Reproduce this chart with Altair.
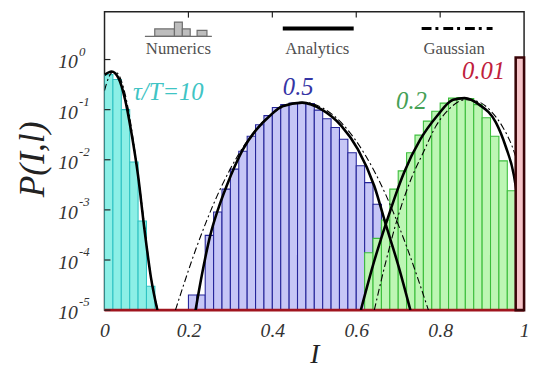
import altair as alt
import pandas as pd

FONT = "Liberation Serif, Times New Roman, DejaVu Serif, serif"

# ---------------- numerics: histograms (bin start, probability) ----------------
bin_width = 0.02
floor_p = 1e-5

cyan_start = [0.00, 0.02, 0.04, 0.06, 0.08, 0.10]
cyan_p = [0.50, 0.40, 0.10, 0.009, 0.0006, 0.00003]

blue_start = [0.20, 0.22, 0.24, 0.26, 0.28, 0.30, 0.32, 0.34, 0.36, 0.38, 0.40, 0.42, 0.44,
              0.46, 0.48, 0.50, 0.52, 0.54, 0.56, 0.58, 0.60, 0.62, 0.64, 0.66, 0.68, 0.70]
blue_p = [2.0e-5, 2.0e-5, 3.1e-4, 9.1e-4, 2.6e-3, 6.5e-3, 0.0148, 0.0295, 0.050, 0.076, 0.110,
          0.126, 0.135, 0.138, 0.132, 0.098, 0.066, 0.044, 0.0257, 0.0138, 0.0076, 0.0035,
          0.0013, 4.5e-4, 1.3e-4, 3.2e-5]

green_start = [0.62, 0.64, 0.66, 0.68, 0.70, 0.72, 0.74, 0.76, 0.78, 0.80, 0.82, 0.84, 0.86,
               0.88, 0.90, 0.92, 0.94, 0.96]
green_p = [1.4e-4, 2.7e-4, 6.3e-4, 2.6e-3, 6.0e-3, 0.0138, 0.031, 0.059, 0.093, 0.135, 0.170,
           0.174, 0.166, 0.126, 0.069, 0.0295, 0.0095, 0.0024]

red_start = [0.98]
red_p = [1.1]

# ---------------- analytics (solid) ----------------
cyan_an_I = [0.0, 0.017, 0.033, 0.049, 0.064, 0.080, 0.095, 0.111, 0.126]
cyan_an_P = [0.49, 0.575, 0.43, 0.16, 0.035, 0.0048, 4.2e-4, 4.3e-5, 1e-5]

blue_an_I = [0.217, 0.232, 0.252, 0.271, 0.291, 0.311, 0.330, 0.362, 0.393, 0.424, 0.471,
             0.518, 0.565, 0.604, 0.643, 0.671, 0.700, 0.729]
blue_an_P = [1e-5, 5.0e-5, 3.1e-4, 1.05e-3, 3.0e-3, 7.6e-3, 0.0162, 0.040, 0.074, 0.117,
             0.138, 0.100, 0.047, 0.0162, 3.0e-3, 4.9e-4, 7.9e-5, 1e-5]

green_an_I = [0.611, 0.640, 0.671, 0.714, 0.753, 0.792, 0.831, 0.858, 0.893, 0.933, 0.956,
              0.976, 0.991, 1.0]
green_an_P = [1e-5, 7.9e-5, 5.4e-4, 5.6e-3, 0.0257, 0.074, 0.158, 0.170, 0.126, 0.055,
              0.0186, 4.8e-3, 5.8e-4, 1e-4]

# ---------------- Gaussian approximations (dash-dot) ----------------
cyan_ga_I = [0.0, 0.01, 0.02, 0.03, 0.04, 0.05, 0.06, 0.07, 0.08, 0.09, 0.10, 0.11, 0.12, 0.127]
cyan_ga_P = [0.24, 0.44, 0.56, 0.54, 0.38, 0.19, 0.071, 0.020, 0.0050, 0.0011, 2.2e-4,
             5.0e-5, 1.8e-5, 1e-5]

blue_ga_I = [0.169, 0.22, 0.27, 0.32, 0.37, 0.42, 0.47, 0.52, 0.57, 0.62, 0.67, 0.72, 0.772]
blue_ga_P = [1e-5, 1.86e-4, 2.04e-3, 0.0130, 0.049, 0.108, 0.141, 0.108, 0.049, 0.0130,
             2.04e-3, 1.86e-4, 1e-5]

green_ga_I = [0.643, 0.67, 0.70, 0.73, 0.76, 0.79, 0.82, 0.86, 0.89, 0.92, 0.95, 0.97, 0.99, 1.0]
green_ga_P = [1e-5, 8.9e-5, 7.6e-4, 4.0e-3, 0.0141, 0.047, 0.100, 0.158, 0.145, 0.0955,
              0.0437, 0.020, 6.3e-3, 3.5e-3]

# ---------------- labels ----------------
curve_label_text = ["τ/T=10", "0.5", "0.2", "0.01"]
curve_label_I = [0.068, 0.425, 0.695, 0.852]
curve_label_P = [0.22, 0.285, 0.145, 0.59]
curve_label_color = ["#40C4C4", "#3535A5", "#45A055", "#C0203C"]

x_ticks = [0, 0.2, 0.4, 0.6, 0.8, 1]
y_ticks = [1, 0.1, 0.01, 0.001, 0.0001, 0.00001]
y_tick_exp = ["0", "-1", "-2", "-3", "-4", "-5"]

# ---------------- scales / axes ----------------
xs = alt.Scale(domain=[0, 1], nice=False, zero=False)
ys = alt.Scale(type="log", domain=[1e-5, 9], nice=False)
xaxis = alt.Axis(values=x_ticks, format="~g", domain=False, ticks=False, grid=False,
                 labelFont=FONT, labelFontStyle="italic", labelFontSize=20, labelColor="#333",
                 labelPadding=11, labelFlush=False, labelOverlap=False,
                 title="I", titleFont=FONT, titleFontStyle="italic", titleFontSize=28,
                 titleFontWeight="normal", titleColor="#222", titlePadding=0)


def bars(starts, ps):
    return pd.DataFrame({"x0": starts, "x1": [s + bin_width for s in starts], "p": ps,
                         "base": [floor_p] * len(starts)})


def bar_layer(df, fill, stroke, sw=1.1, clip=True):
    return alt.Chart(df).mark_rect(fill=fill, stroke=stroke, strokeWidth=sw, clip=clip).encode(
        x=alt.X("x0:Q", scale=xs, axis=xaxis), x2="x1:Q",
        y=alt.Y("p:Q", scale=ys, axis=None), y2="base:Q")


def curves(parts):
    rows = []
    for name, I, P in parts:
        for i, p in zip(I, P):
            rows.append({"I": i, "P": p, "curve": name})
    return pd.DataFrame(rows)


layers = []
layers.append(bar_layer(bars(cyan_start, cyan_p), "#8CEFE6", "#2FC3C3"))
layers.append(bar_layer(bars(blue_start, blue_p), "#C6C6F6", "#25259A"))
layers.append(bar_layer(bars(green_start, green_p), "#BDF6B4", "#3CBE3C"))

# red histogram floor
base_df = pd.DataFrame({"x0": [0.0], "x1": [1.0], "p": [floor_p]})
layers.append(alt.Chart(base_df).mark_rule(color="#A0141E", strokeWidth=3).encode(
    x=alt.X("x0:Q", scale=xs, axis=xaxis), x2="x1:Q", y=alt.Y("p:Q", scale=ys, axis=None)))

an_df = curves([("c", cyan_an_I, cyan_an_P), ("b", blue_an_I, blue_an_P), ("g", green_an_I, green_an_P)])
ga_df = curves([("c", cyan_ga_I, cyan_ga_P), ("b", blue_ga_I, blue_ga_P), ("g", green_ga_I, green_ga_P)])

layers.append(alt.Chart(ga_df).mark_line(color="black", strokeWidth=1.1, strokeDash=[7, 3, 2, 3],
                                          interpolate="monotone", clip=True).encode(
    x=alt.X("I:Q", scale=xs, axis=xaxis), y=alt.Y("P:Q", scale=ys, axis=None), detail="curve:N"))
layers.append(alt.Chart(an_df).mark_line(color="black", strokeWidth=2.6,
                                          interpolate="monotone", clip=True).encode(
    x=alt.X("I:Q", scale=xs, axis=xaxis), y=alt.Y("P:Q", scale=ys, axis=None), detail="curve:N"))

# tau/T = 0.01 bar
layers.append(bar_layer(bars(red_start, red_p), "#F6C4C8", "#3A0508", sw=2.6, clip=False))

# curve labels
lab_df = pd.DataFrame({"I": curve_label_I, "P": curve_label_P, "t": curve_label_text,
                       "c": curve_label_color})
layers.append(alt.Chart(lab_df).mark_text(font=FONT, fontStyle="italic", fontSize=25,
                                          align="left", baseline="middle").encode(
    x=alt.X("I:Q", scale=xs, axis=xaxis), y=alt.Y("P:Q", scale=ys, axis=None),
    text="t:N", color=alt.Color("c:N", scale=None)))

# y tick labels 10^n
yt_df = pd.DataFrame({"v": y_ticks, "e": y_tick_exp})
layers.append(alt.Chart(yt_df).mark_text(font=FONT, fontStyle="italic", fontSize=20, align="right",
                                         baseline="middle", dy=3, color="#333").encode(
    y=alt.Y("v:Q", scale=ys, axis=None), x=alt.value(-27), text=alt.value("10")))
layers.append(alt.Chart(yt_df).mark_text(font=FONT, fontStyle="italic", fontSize=13, align="left",
                                         baseline="middle", dy=-8, color="#333").encode(
    y=alt.Y("v:Q", scale=ys, axis=None), x=alt.value(-26), text="e:N"))

# inward ticks
xt_df = pd.DataFrame({"I": [0.2, 0.4, 0.6, 0.8]})
layers.append(alt.Chart(xt_df).mark_rule(color="#222", strokeWidth=1.2).encode(
    x=alt.X("I:Q", scale=xs, axis=xaxis), y=alt.value(0), y2=alt.value(6)))
layers.append(alt.Chart(yt_df).mark_rule(color="#222", strokeWidth=1.2).encode(
    y=alt.Y("v:Q", scale=ys, axis=None), x=alt.value(0), x2=alt.value(6)))

# y title
layers.append(alt.Chart(pd.DataFrame({"t": ["P(I,l)"]})).mark_text(
    font=FONT, fontStyle="italic", fontSize=36, angle=270, align="center", baseline="middle",
    color="#222").encode(x=alt.value(-72), y=alt.value(150), text="t:N"))

# ---------------- legend ----------------
legend_icon_bars = [(51, 71, 17.5), (71, 79, 10.5), (79, 87, 17.5), (94, 104, 19)]
for a, b, top in legend_icon_bars:
    layers.append(alt.Chart(pd.DataFrame({"k": [0]})).mark_rect(
        fill="#BDBDBD", stroke="#6E6E6E", strokeWidth=1.2).encode(
        x=alt.value(a), x2=alt.value(b), y=alt.value(top), y2=alt.value(25)))
layers.append(alt.Chart(pd.DataFrame({"k": [0]})).mark_rule(color="#6E6E6E", strokeWidth=1.4).encode(
    x=alt.value(41), x2=alt.value(109), y=alt.value(25)))
layers.append(alt.Chart(pd.DataFrame({"k": [0]})).mark_rule(color="black", strokeWidth=4).encode(
    x=alt.value(181), x2=alt.value(253), y=alt.value(17)))
layers.append(alt.Chart(pd.DataFrame({"k": [0]})).mark_rule(
    color="black", strokeWidth=3, strokeDash=[10, 4, 3, 5]).encode(
    x=alt.value(322), x2=alt.value(394), y=alt.value(17)))
legend_df = pd.DataFrame({"t": ["Numerics", "Analytics", "Gaussian"], "px": [75, 216, 355]})
layers.append(alt.Chart(legend_df).mark_text(font=FONT, fontSize=17, color="#505050",
                                             baseline="middle", align="center").encode(
    x=alt.X("px:Q", scale=None), y=alt.value(38), text="t:N"))

chart = alt.layer(*layers).properties(
    width=426, height=303,
    autosize=alt.AutoSizeParams(type="none"),
    padding={"left": 98, "top": 1, "right": 5, "bottom": 56},
).configure_view(stroke="#222", strokeWidth=1.5)

chart.save("out.html", embed_options={"renderer": "svg", "actions": False})
